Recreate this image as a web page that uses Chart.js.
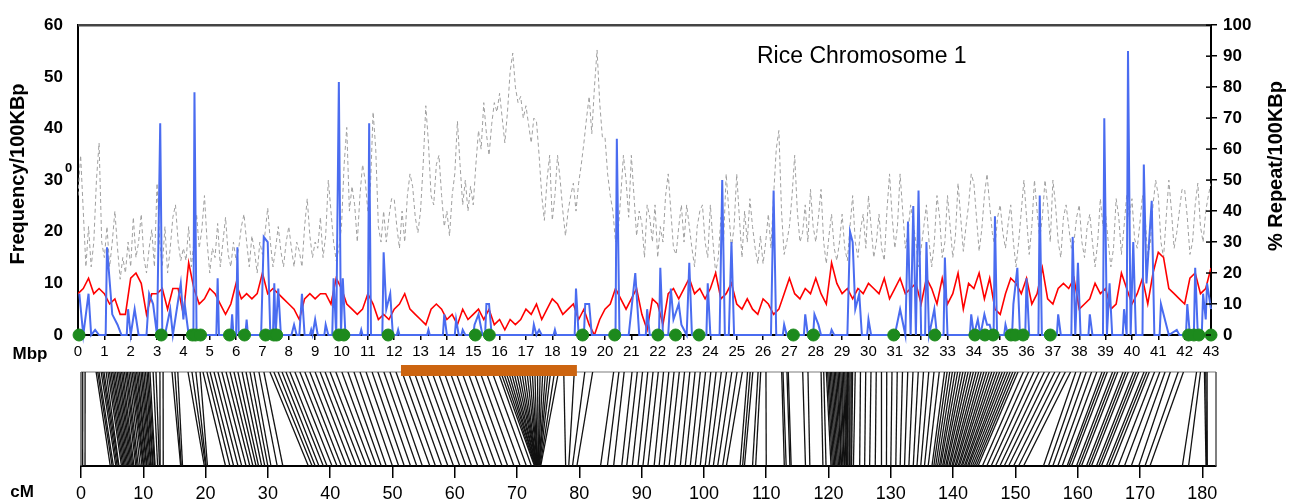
<!DOCTYPE html>
<html>
<head>
<meta charset="utf-8">
<script src="https://cdn.jsdelivr.net/npm/chart.js@4.4.0/dist/chart.umd.min.js"></script>
<style>
  html, body { margin: 0; padding: 0; background: #fff; }
  #wrap { position: relative; width: 1294px; height: 504px; overflow: hidden; }
  #topBox { position: absolute; left: 0; top: 0; width: 1294px; height: 365px; }
  #mapBox { position: absolute; left: 0; top: 340px; width: 1294px; height: 164px; }
</style>
</head>
<body>
<div id="wrap">
  <div id="topBox"><canvas id="freqChart"></canvas></div>
  <div id="mapBox"><canvas id="mapChart"></canvas></div>
</div>
<script>
// rice chromosome 1 - frequency / repeat plot + genetic map

const chartTitle = 'Rice Chromosome 1';
const leftTitle = 'Frequency/100KBp';
const rightTitle = '% Repeat/100KBp';

// blue: frequency per 100 kbp  [Mbp, value]
const freqPoints = [
  [0.05,8],[0.2,0],[0.4,8],[0.5,0],[0.65,1],[0.8,0],[1.05,0],[1.1,17],[1.3,4],[1.5,2],[1.65,0],
  [1.85,0],[1.9,5],[2.0,0],[2.15,5],[2.3,0],[2.6,0],[2.7,8],[2.85,6],[3.0,0],[3.12,41],[3.2,0],
  [3.3,0],[3.5,5],[3.6,0],[3.9,10],[4.0,3],[4.05,6],[4.2,0],[4.38,0],[4.42,47],[4.5,0],
  [5.25,0],[5.3,11],[5.35,0],[5.8,0],[5.85,4],[5.9,0],[6.0,0],[6.05,17],[6.1,0],[6.35,0],[6.4,3],[6.45,0],
  [6.95,0],[7.05,19],[7.2,18],[7.3,0],[7.4,0],[7.45,10],[7.5,0],[7.6,9],[7.7,0],[8.1,0],[8.2,2],[8.3,0],
  [8.4,0],[8.5,8],[8.6,0],[8.8,0],[8.85,1],[8.9,0],[9.0,3],[9.1,0],[9.35,0],[9.4,2],[9.5,0],
  [9.65,0],[9.7,11],[9.8,0],[9.9,49],[9.98,0],[10.05,11],[10.15,0],[10.7,0],[10.75,1],[10.8,0],
  [11.0,0],[11.05,41],[11.12,0],[11.55,0],[11.6,16],[11.7,5],[11.85,8],[11.95,0],[12.1,0],[12.15,1],[12.2,0],
  [13.25,0],[13.3,1],[13.35,0],[13.85,0],[13.9,4],[14.0,0],[14.3,0],[14.35,3],[14.45,0],[14.55,0],[14.6,1],[14.7,0],
  [15.0,0],[15.05,2],[15.2,4],[15.35,0],[15.45,0],[15.5,6],[15.6,6],[15.7,0],[17.25,0],[17.3,2],[17.4,0],
  [17.5,1],[17.6,0],[18.05,0],[18.1,1],[18.15,0],[18.85,0],[18.9,9],[19.0,0],[19.2,0],[19.25,6],[19.4,6],[19.5,0],
  [20.4,0],[20.45,38],[20.55,0],[20.9,0],[21.15,12],[21.3,0],[21.55,0],[21.6,5],[21.7,0],[22.05,0],[22.1,13],[22.2,0],
  [22.4,0],[22.5,9],[22.6,3],[22.8,6],[22.9,2],[23.1,0],[23.2,14],[23.3,0],[23.85,0],[23.9,10],[24.0,0],
  [24.35,0],[24.45,30],[24.55,0],[24.7,0],[24.8,18],[24.9,0],[26.3,0],[26.4,28],[26.5,0],[26.75,0],[26.8,2],[26.9,0],
  [27.55,0],[27.6,4],[27.7,0],[27.9,0],[27.95,4],[28.1,2],[28.2,0],[28.55,0],[28.6,1],[28.7,0],
  [29.2,0],[29.3,20],[29.4,18],[29.5,5],[29.65,8],[29.75,0],[29.95,0],[30.0,3],[30.1,0],[31.0,0],[31.2,5],[31.4,0],
  [31.5,22],[31.6,0],[31.7,25],[31.8,0],[31.9,28],[32.0,0],[32.15,0],[32.2,18],[32.3,0],[32.5,5],[32.6,0],
  [32.85,0],[32.9,15],[33.0,0],[33.85,0],[33.9,4],[34.0,0],[34.15,3],[34.25,0],[34.4,4],[34.5,2],[34.6,2],[34.7,0],
  [34.75,0],[34.8,23],[34.88,0],[35.15,0],[35.2,2],[35.3,0],[35.45,0],[35.5,6],[35.65,13],[35.75,0],[35.95,0],[36.0,11],[36.1,0],
  [36.45,0],[36.5,27],[36.58,0],[37.15,0],[37.2,4],[37.3,0],[37.7,0],[37.75,19],[37.85,0],[37.95,14],[38.05,0],
  [38.35,0],[38.4,4],[38.5,0],[38.9,0],[38.95,42],[39.05,0],[39.15,10],[39.25,0],[39.65,0],[39.7,5],[39.8,0],
  [39.85,55],[39.95,0],[40.05,18],[40.15,0],[40.4,0],[40.45,33],[40.55,10],[40.75,26],[40.85,0],[41.05,0],[41.1,6],
  [41.25,3],[41.4,0],[41.7,1],[41.8,0],[42.05,0],[42.1,6],[42.2,0],[42.35,0],[42.4,13],[42.5,0],[42.65,0],
  [42.7,8],[42.8,3],[42.85,10],[43.0,5]
];

// red: second frequency track, one value every 0.2 Mbp (rows of 2 Mbp)
const redStep = 0.2;
const redValues = [
  8,9,11,8,9,8,6,7,4,4,
  11,12,10,4,8,8,9,5,9,9,
  4,14,9,6,7,9,8,6,4,6,
  10,7,8,7,8,12,8,9,8,7,
  6,5,3,7,8,7,8,8,6,11,
  9,6,5,4,5,8,6,3,4,3,
  5,6,8,5,4,3,2,5,6,5,
  3,4,2,5,3,4,5,3,5,2,
  3,1,3,2,3,5,4,6,3,5,
  7,6,4,5,6,3,5,2,0,3,
  5,6,9,7,5,7,9,4,1,7,
  6,2,8,9,7,9,11,8,9,7,
  9,12,7,8,10,6,5,7,5,4,
  7,6,4,5,8,11,8,7,9,8,
  11,8,6,14,10,8,9,7,9,8,
  10,9,8,11,7,9,11,8,9,10,
  6,11,9,6,11,6,8,12,5,10,
  9,12,7,11,5,4,8,11,10,8,
  11,6,8,13,7,6,9,10,9,11,
  5,6,7,10,8,9,5,6,12,9,
  6,8,11,6,12,16,15,9,8,7,
  6,11,12,8,9,13
];

// grey dashed: % repeat per 100 kbp, one row per Mbp (x.0 .. x.9), last value at 43.0
const repeatStep = 0.1;
const repeatPct = [
  45,58,40,22,35,22,30,50,62,30,
  25,35,22,30,40,28,18,25,20,30,
  22,38,25,30,39,25,20,28,34,22,
  49,30,22,35,20,28,38,42,30,24,
  28,24,35,22,30,39,28,34,45,30,
  20,28,25,36,22,30,38,26,22,30,
  24,28,35,39,30,22,32,27,20,30,
  26,33,41,30,22,28,35,27,22,30,
  35,28,22,30,27,22,35,44,32,25,
  30,28,38,25,32,50,40,30,24,28,
  35,55,67,40,48,42,30,45,55,50,
  40,48,72,60,35,30,40,30,38,44,
  44,35,28,40,30,45,52,48,38,33,
  40,55,74,62,45,42,55,58,45,35,
  40,32,45,52,69,55,42,50,40,48,
  42,55,66,60,75,65,58,68,75,72,
  78,70,62,72,85,91,80,75,77,70,
  74,68,62,70,69,58,45,37,50,58,
  37,45,58,50,40,32,40,45,49,40,
  49,55,62,70,77,65,80,92,75,64,
  64,52,45,40,30,33,45,58,50,38,
  58,45,32,40,36,25,42,38,30,42,
  25,35,30,45,52,40,28,26,35,42,
  30,42,35,28,22,35,40,42,30,25,
  42,30,20,25,38,30,52,40,28,35,
  52,38,25,40,30,44,35,28,23,32,
  23,30,39,28,45,60,66,40,26,30,
  35,45,58,40,30,33,42,30,47,35,
  30,38,47,30,23,32,39,28,24,30,
  39,28,24,35,45,30,25,34,39,28,
  45,35,25,30,39,28,24,40,52,38,
  28,35,52,40,28,33,42,36,30,22,
  28,35,42,30,22,30,45,38,25,30,
  45,35,25,32,49,38,27,35,42,52,
  49,38,27,34,45,52,42,33,28,38,
  42,33,28,36,42,30,22,30,40,50,
  38,26,35,50,40,31,38,50,42,30,
  50,42,30,25,38,42,35,28,30,38,
  42,30,25,35,39,30,22,30,44,35,
  39,30,22,28,44,38,26,35,45,38,
  44,31,28,36,45,38,25,30,42,50,
  45,30,25,38,50,40,28,33,40,47,
  47,38,26,30,42,49,35,30,40,45,
  49
];

// green dots on the axis (Mbp)
const gapMbp = [
  0.04,3.16,4.34,4.46,4.65,5.75,6.32,7.12,7.43,7.54,9.9,10.09,11.77,15.08,15.61,19.15,20.37,
  22.01,22.68,23.57,27.15,27.91,30.96,32.52,34.04,34.42,34.73,35.41,35.57,35.87,36.9,42.15,42.35,42.54,43.0
];

// genetic map: marker position [Mbp, cM]
const linkage = [
  [0.18,0.27],[0.27,0.65],
  [0.69,4.7],[0.75,5.0],[0.8,5.2],[0.88,5.6],[0.94,5.8],[0.99,6.0],[1.07,6.1],[1.14,6.5],[1.2,6.7],[1.26,6.9],
  [1.32,7.1],[1.37,7.3],[1.43,7.5],[1.49,7.7],[1.55,7.9],[1.6,8.1],[1.66,8.3],[1.71,8.5],[1.77,8.8],[1.83,9.0],
  [1.88,9.2],[1.94,9.5],[2.0,9.8],[2.06,10.0],[2.12,10.1],[2.17,10.3],[2.23,10.5],[2.28,10.6],[2.34,10.8],
  [2.4,11.0],[2.45,11.2],[2.51,11.3],[2.57,11.5],[2.63,11.6],[2.68,11.8],
  [2.74,11.9],[2.86,12.3],[2.97,12.6],[3.12,12.7],[3.24,13.2],
  [3.58,16.0],[3.69,16.1],[3.8,16.3],[4.19,19.8],[4.34,20.0],[4.49,20.1],[4.65,20.3],
  [4.76,23.2],[4.91,23.9],[5.03,24.5],[5.18,25.2],[5.33,25.8],[5.48,26.5],[5.64,27.1],[5.79,27.6],[5.94,28.1],
  [6.09,28.5],[6.25,29.0],[6.4,29.5],[6.55,30.0],[6.7,30.5],[6.89,31.5],[7.08,32.4],
  [7.31,36.5],[7.46,37.1],[7.62,37.6],[7.77,38.2],[7.92,38.9],[8.07,39.5],[8.26,40.3],[8.45,41.1],[8.64,41.8],
  [8.83,42.6],[9.03,43.4],[9.22,44.2],[9.41,45.0],[9.6,45.8],[9.82,46.6],[10.05,47.4],[10.28,48.2],[10.51,49.0],
  [10.74,50.0],[10.97,51.0],[11.2,51.9],[11.42,52.9],[11.65,53.9],[11.88,54.8],[12.11,56.0],
  [12.34,56.9],[12.57,57.9],[12.8,58.9],[13.02,59.8],[13.25,60.8],[13.48,61.8],[13.71,62.7],[13.94,63.7],
  [14.17,64.7],[14.39,65.6],[14.62,66.6],[14.85,67.6],[15.08,68.5],[15.31,69.5],[15.54,70.5],[15.77,71.5],[16.0,72.3],
  [16.1,72.8],[16.2,72.9],[16.3,73.0],[16.4,73.0],[16.5,73.1],[16.6,73.1],[16.7,73.2],[16.8,73.2],[16.9,73.2],
  [17.0,73.2],[17.1,73.3],[17.2,73.3],[17.3,73.3],[17.4,73.3],[17.5,73.4],[17.6,73.4],[17.7,73.4],[17.8,73.5],
  [17.9,73.5],[18.0,73.6],[18.15,73.7],[18.3,73.8],
  [18.5,77.8],[18.9,78.3],[19.3,78.9],[19.6,79.6],
  [20.4,83.4],[20.6,84.5],[20.8,85.5],[21.1,86.8],[21.3,87.6],[21.5,88.5],[21.7,89.4],[21.9,90.2],[22.1,91.0],
  [22.3,92.0],[22.5,92.8],[22.7,93.6],[22.9,94.4],[23.1,95.3],[23.3,96.2],[23.5,97.0],[23.7,97.8],[23.9,98.6],
  [24.1,99.4],[24.3,100.2],[24.5,100.8],[24.7,101.5],[24.9,102.2],[25.1,103.0],[25.3,103.6],[25.5,105.8],
  [25.6,106.2],[25.7,106.5],[25.9,107.8],[26.0,108.3],[26.2,110.0],[26.8,112.9],[26.85,113.2],[27.0,113.8],
  [27.05,114.0],[27.6,116.3],[27.8,117.0],[28.3,119.1],[28.4,119.6],
  [28.5,120.4],[28.55,120.6],[28.6,120.8],[28.65,121.0],[28.7,121.2],[28.75,121.4],[28.8,121.6],[28.85,121.8],
  [28.9,122.0],[28.95,122.1],[29.0,122.3],[29.05,122.5],[29.1,122.6],[29.15,122.8],[29.2,122.9],[29.25,123.0],
  [29.3,123.1],[29.35,123.3],[29.4,123.4],[29.45,123.6],[29.5,123.7],[29.6,124.0],
  [29.8,125.0],[30.0,125.8],[30.2,126.6],[30.4,127.5],[30.6,128.5],[30.8,129.3],
  [31.0,130.0],[31.2,130.8],[31.4,131.5],[31.6,132.2],[31.8,132.9],[32.0,133.6],[32.2,134.2],[32.4,134.8],
  [32.6,135.4],[32.8,136.0],[33.0,136.6],[33.1,136.9],[33.2,137.2],[33.3,137.5],[33.4,137.8],[33.5,138.0],
  [33.6,138.3],[33.7,138.5],[33.8,138.8],[33.9,139.0],[34.0,139.3],[34.1,139.5],[34.2,139.8],[34.3,140.0],
  [34.4,140.3],[34.5,140.5],[34.6,140.8],[34.7,141.0],[34.8,141.3],[34.9,141.5],[35.0,141.8],[35.1,142.0],
  [35.2,142.3],[35.3,142.5],[35.4,142.8],[35.5,143.1],[35.6,143.4],[35.7,143.7],
  [35.8,144.0],[36.0,144.7],[36.2,145.4],[36.4,146.1],[36.6,146.8],[36.8,147.5],[37.0,148.2],[37.2,148.9],
  [37.4,149.7],[37.6,150.5],[37.8,151.3],
  [38.0,154.5],[38.2,155.3],[38.4,156.0],[38.6,156.8],[38.8,157.5],[39.0,158.3],[39.1,158.6],[39.2,159.0],
  [39.4,159.8],[39.5,160.2],[39.6,160.6],[39.8,161.4],[39.9,161.8],[40.0,162.2],[40.2,163.0],[40.3,163.4],
  [40.4,163.8],[40.6,164.6],[40.7,165.0],[40.8,165.5],[41.0,166.5],
  [41.2,167.5],[41.4,168.6],[41.6,169.8],
  [41.9,170.8],[42.1,171.6],[42.6,176.8],[42.75,177.8],[42.9,180.6],[42.95,180.7],[43.0,180.8]
];

// cM tick labels of the genetic map
const cmTicks = [0,10,20,30,40,50,60,70,80,90,100,110,120,130,140,150,160,170,180];

// highlighted region on the physical map (Mbp)
const regionStart = 12.3;
const regionEnd = 19.0;

const FONT = 'Arial, "Liberation Sans", sans-serif';
Chart.defaults.font.family = FONT;
Chart.defaults.color = '#000';

// ---------- top chart ----------
const freqText = {
  id: 'freqText',
  afterDraw(chart) {
    const { ctx, chartArea: a } = chart;
    const y2 = chart.scales.y2;
    ctx.save();
    ctx.strokeStyle = '#444';
    ctx.lineWidth = 2.5;
    ctx.beginPath(); ctx.moveTo(a.left, a.top); ctx.lineTo(a.right, a.top); ctx.stroke();

    // right axis ticks cross the axis line
    ctx.strokeStyle = '#000';
    ctx.lineWidth = 1.5;
    y2.ticks.forEach(t => {
      const py = y2.getPixelForValue(t.value);
      ctx.beginPath(); ctx.moveTo(a.right - 5, py); ctx.lineTo(a.right, py); ctx.stroke();
    });

    ctx.fillStyle = '#000';
    ctx.textAlign = 'left';
    ctx.textBaseline = 'alphabetic';
    ctx.font = '23px ' + FONT;
    ctx.fillText(chartTitle, 757, 63);

    ctx.font = 'bold 13px ' + FONT;
    ctx.fillText('0', 65, 172);

    ctx.font = 'bold 17px ' + FONT;
    ctx.textAlign = 'center';
    ctx.textBaseline = 'middle';
    ctx.fillText('Mbp', 30, 354);

    ctx.font = 'bold 20px ' + FONT;
    ctx.save();
    ctx.translate(18, 174); ctx.rotate(-Math.PI / 2);
    ctx.fillText(leftTitle, 0, 0);
    ctx.restore();
    ctx.save();
    ctx.translate(1276, 166); ctx.rotate(-Math.PI / 2);
    ctx.fillText(rightTitle, 0, 0);
    ctx.restore();
    ctx.restore();
  }
};

new Chart(document.getElementById('freqChart'), {
  type: 'line',
  data: {
    datasets: [
      {
        label: 'gaps',
        type: 'scatter',
        data: gapMbp.map(m => ({ x: m, y: 0 })),
        yAxisID: 'y',
        backgroundColor: '#1d8a1d',
        borderColor: '#1d8a1d',
        pointRadius: 6,
        clip: false,
        order: 0
      },
      {
        label: 'frequency',
        data: freqPoints.map(p => ({ x: p[0], y: p[1] })),
        yAxisID: 'y',
        borderColor: '#4a6cf0',
        borderWidth: 2,
        pointRadius: 0,
        tension: 0,
        clip: false,
        order: 1
      },
      {
        label: 'frequency 2',
        data: redValues.map((v, i) => ({ x: i * redStep, y: v })),
        yAxisID: 'y',
        borderColor: '#ff0000',
        borderWidth: 1.6,
        pointRadius: 0,
        tension: 0,
        order: 2
      },
      {
        label: 'repeat',
        data: repeatPct.map((v, i) => ({ x: i * repeatStep, y: v })),
        yAxisID: 'y2',
        borderColor: '#a0a0a0',
        borderWidth: 1,
        borderDash: [4, 3],
        pointRadius: 0,
        tension: 0,
        order: 3
      }
    ]
  },
  options: {
    responsive: true,
    maintainAspectRatio: false,
    animation: false,
    devicePixelRatio: 1,
    layout: { padding: { top: 16, left: 0, right: 0, bottom: 0 } },
    plugins: { legend: { display: false }, tooltip: { enabled: false } },
    scales: {
      x: {
        type: 'linear',
        min: 0, max: 43,
        ticks: { stepSize: 1, autoSkip: false, maxRotation: 0, padding: 3, font: { size: 15 }, color: '#000' },
        grid: { drawOnChartArea: false, drawTicks: true, tickLength: 5, color: '#000', lineWidth: 1.5 },
        border: { color: '#000', width: 2 },
        afterFit(s) { s.height = 30; }
      },
      y: {
        position: 'left',
        min: 0, max: 60,
        ticks: { stepSize: 10, padding: 15, font: { size: 17, weight: 'bold' }, color: '#000' },
        grid: { drawOnChartArea: false, drawTicks: false },
        border: { color: '#000', width: 2 },
        afterFit(s) { s.width = 78; }
      },
      y2: {
        position: 'right',
        min: 0, max: 100,
        ticks: { stepSize: 10, padding: 6, font: { size: 17, weight: 'bold' }, color: '#000' },
        grid: { drawOnChartArea: false, drawTicks: true, tickLength: 6, color: '#000', lineWidth: 1.5 },
        border: { color: '#000', width: 2 },
        afterFit(s) { s.width = 83; }
      }
    }
  },
  plugins: [freqText]
});

// ---------- genetic map ----------
const linkageLines = {
  id: 'linkageLines',
  beforeDatasetsDraw(chart) {
    const { ctx, chartArea: a, scales } = chart;
    ctx.save();
    ctx.strokeStyle = '#bdbdbd';
    ctx.lineWidth = 2;
    ctx.beginPath(); ctx.moveTo(a.left, a.top); ctx.lineTo(a.right, a.top); ctx.stroke();
    ctx.strokeStyle = '#555';
    ctx.lineWidth = 1.5;
    ctx.beginPath();
    ctx.moveTo(a.left, a.top); ctx.lineTo(a.left, a.bottom);
    ctx.moveTo(a.right, a.top); ctx.lineTo(a.right, a.bottom);
    ctx.stroke();

    ctx.beginPath();
    ctx.rect(a.left, a.top, a.right - a.left, a.bottom - a.top);
    ctx.clip();
    ctx.strokeStyle = '#111';
    ctx.lineWidth = 1.3;
    linkage.forEach(([mbp, cm]) => {
      ctx.beginPath();
      ctx.moveTo(scales.xm.getPixelForValue(mbp), a.top);
      ctx.lineTo(scales.x.getPixelForValue(cm), a.bottom);
      ctx.stroke();
    });
    ctx.restore();
  },
  afterDraw(chart) {
    const { ctx } = chart;
    ctx.save();
    ctx.fillStyle = '#000';
    ctx.font = 'bold 17px ' + FONT;
    ctx.textAlign = 'center';
    ctx.textBaseline = 'middle';
    ctx.fillText('cM', 22, 152);
    ctx.restore();
  }
};

new Chart(document.getElementById('mapChart'), {
  type: 'line',
  data: {
    datasets: [
      {
        label: 'region',
        data: [{ x: regionStart, y: 1.016 }, { x: regionEnd, y: 1.016 }],
        xAxisID: 'xm',
        yAxisID: 'y',
        borderColor: '#cc6410',
        borderWidth: 11,
        borderCapStyle: 'butt',
        pointRadius: 0,
        clip: false
      }
    ]
  },
  options: {
    responsive: true,
    maintainAspectRatio: false,
    animation: false,
    devicePixelRatio: 1,
    layout: { padding: { top: 32, left: 81, right: 78, bottom: 0 } },
    plugins: { legend: { display: false }, tooltip: { enabled: false } },
    scales: {
      x: {
        type: 'linear',
        min: 0, max: 182.2,
        ticks: { autoSkip: false, maxRotation: 0, padding: 5, font: { size: 18 }, color: '#000' },
        afterBuildTicks(s) { s.ticks = cmTicks.map(v => ({ value: v })); },
        grid: { drawOnChartArea: false, drawTicks: true, tickLength: 12, color: '#000', lineWidth: 1.5 },
        border: { color: '#000', width: 2 },
        afterFit(s) { s.height = 38; }
      },
      xm: {
        type: 'linear',
        position: 'top',
        display: false,
        min: 0.114, max: 43.34
      },
      y: { display: false, min: 0, max: 1 }
    }
  },
  plugins: [linkageLines]
});
</script>
</body>
</html>
